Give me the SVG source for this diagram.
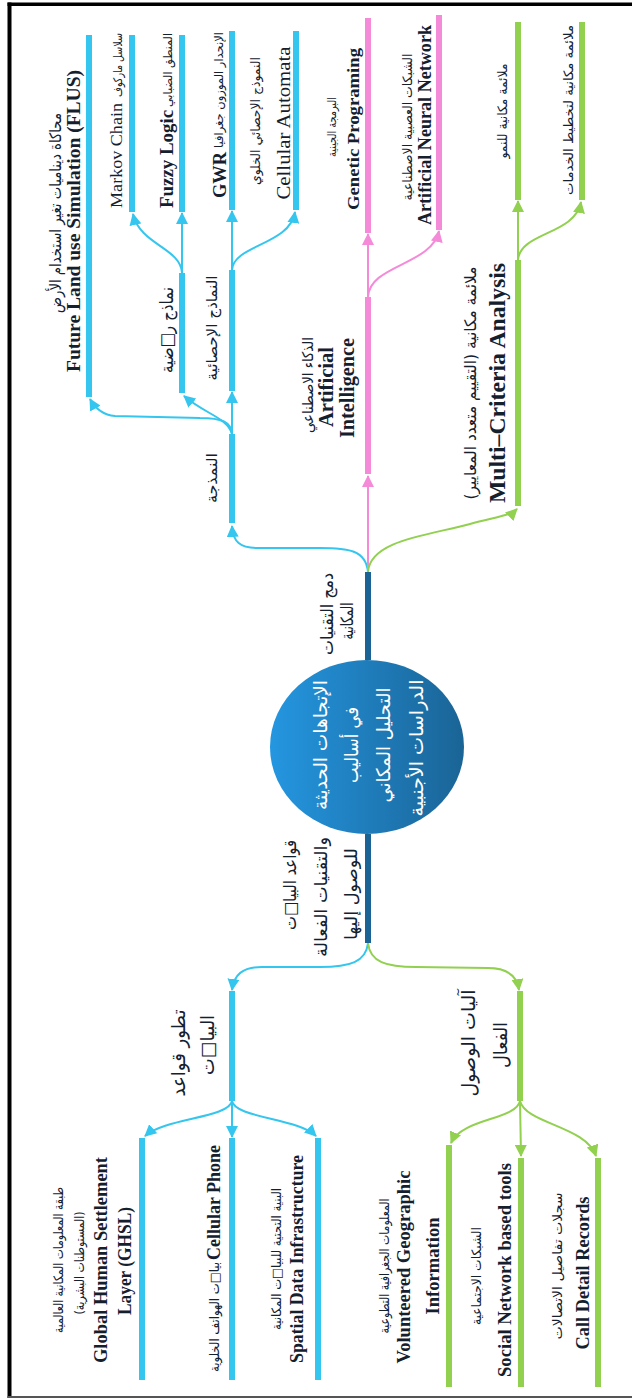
<svg xmlns="http://www.w3.org/2000/svg" width="632" height="1398" viewBox="0 0 632 1398">
  <defs>
    <linearGradient id="rootFill" x1="0" y1="0" x2="1" y2="0">
      <stop offset="0" stop-color="#2496e0"/>
      <stop offset="1" stop-color="#1a6496"/>
    </linearGradient>
    <marker id="arrC" markerUnits="userSpaceOnUse" markerWidth="12" markerHeight="12" viewBox="0 0 12 12" refX="11" refY="6" orient="auto">
      <path d="M0,0 L12,6 L0,12 z" fill="#34c6ee"/>
    </marker>
    <marker id="arrP" markerUnits="userSpaceOnUse" markerWidth="12" markerHeight="12" viewBox="0 0 12 12" refX="11" refY="6" orient="auto">
      <path d="M0,0 L12,6 L0,12 z" fill="#f48ad8"/>
    </marker>
    <marker id="arrG" markerUnits="userSpaceOnUse" markerWidth="12" markerHeight="12" viewBox="0 0 12 12" refX="11" refY="6" orient="auto">
      <path d="M0,0 L12,6 L0,12 z" fill="#92d050"/>
    </marker>
    <style>
      .bar { stroke-width: 6; fill: none; }
      .c { stroke: #34c6ee; }
      .p { stroke: #f48ad8; }
      .g { stroke: #92d050; }
      .d { stroke: #1b6394; }
      .link { fill: none; stroke-width: 2; }
      .lc { stroke: #34c6ee; marker-end: url(#arrC); }
      .lp { stroke: #f48ad8; marker-end: url(#arrP); }
      .lg { stroke: #92d050; marker-end: url(#arrG); }
      text { text-anchor: middle; fill: #14202e; }
      .en { font-family: "Liberation Serif", "Times New Roman", serif; font-weight: bold; }
      .enr { font-family: "Liberation Serif", "Times New Roman", serif; }
      .ar { font-family: "DejaVu Sans", "Noto Sans", sans-serif; direction: rtl; unicode-bidi: embed; }
      .w { fill: #ffffff; }
    </style>
  </defs>

  <!-- page frame -->
  <rect x="7.5" y="2.5" width="625" height="3.5" fill="#000"/>
  <rect x="7.5" y="2.5" width="4" height="1396" fill="#000"/>
  <rect x="7.5" y="1396" width="625" height="2" fill="#555"/>

  <!-- connectors -->
  <g id="connectors" class="link">
    <!-- upper half: spatial integration -->
    <path class="link lc" d="M368,572 C366,550 348,548 320,548 L258,548 C240,548 233,542 232,526"/>
    <path class="link lp" d="M368,572 L368,476"/>
    <path class="link lg" d="M368,572 C370,540 430,535 470,524 C495,517 510,516 517,509"/>
    <path class="link lc" d="M232,434 C231,422 222,418 200,418 L115,416 C103,415 95,408 90,399"/>
    <path class="link lc" d="M232,434 C228,418 205,414 184,396"/>
    <path class="link lc" d="M232,434 L232,392"/>
    <path class="link lc" d="M182,273 C181,248 140,245 133,214"/>
    <path class="link lc" d="M182,273 L182,213"/>
    <path class="link lc" d="M232,270 L232,211"/>
    <path class="link lc" d="M232,270 C233,245 290,245 295,212"/>
    <path class="link lp" d="M368,297 L368,234"/>
    <path class="link lp" d="M368,297 C369,265 432,265 439,231"/>
    <path class="link lg" d="M518,260 L518,201"/>
    <path class="link lg" d="M518,260 C520,232 575,235 581,202"/>
    <!-- lower half: data sources and access -->
    <path class="link lc" d="M368,943 C366,962 350,967 320,967 L262,967 C242,967 234,975 232,990"/>
    <path class="link lg" d="M368,943 C370,962 386,967 416,967 L488,968 C508,968 517,976 519,990"/>
    <path class="link lc" d="M232,1101 C229,1118 165,1118 145,1136"/>
    <path class="link lc" d="M232,1101 L232,1137"/>
    <path class="link lc" d="M232,1101 C235,1118 298,1118 316,1136"/>
    <path class="link lg" d="M520,1101 C516,1120 462,1118 451,1143"/>
    <path class="link lg" d="M520,1101 L521,1156"/>
    <path class="link lg" d="M520,1101 C526,1124 586,1126 596,1156"/>
  </g>

  <!-- central topic -->
  <g id="root">
    <ellipse cx="367" cy="747" rx="97" ry="87" fill="url(#rootFill)"/>
    <text class="ar w" font-size="19" transform="translate(327 745) rotate(-90)" textLength="130" lengthAdjust="spacingAndGlyphs">الإتجاهات الحديثة</text>
    <text class="ar w" font-size="19" transform="translate(358 745) rotate(-90)" textLength="76" lengthAdjust="spacingAndGlyphs">في أساليب</text>
    <text class="ar w" font-size="19" transform="translate(390 745) rotate(-90)" textLength="115" lengthAdjust="spacingAndGlyphs">التحليل المكاني</text>
    <text class="ar w" font-size="19" transform="translate(423 748) rotate(-90)" textLength="137" lengthAdjust="spacingAndGlyphs">الدراسات الأجنبية</text>
  </g>

  <g id="spatial-integration">
    <line class="bar d" x1="368" y1="572" x2="368" y2="660"/>
    <text class="ar" font-size="17" transform="translate(333 614) rotate(-90)" textLength="82" lengthAdjust="spacingAndGlyphs">دمج التقنيات</text>
    <text class="ar" font-size="17" transform="translate(353 621) rotate(-90)" textLength="37" lengthAdjust="spacingAndGlyphs">المكانية</text>
  </g>

  <g id="data-access">
    <line class="bar d" x1="368" y1="834" x2="368" y2="943"/>
    <text class="ar" font-size="17" transform="translate(296 885) rotate(-90)" textLength="90" lengthAdjust="spacingAndGlyphs">قواعد البيا□ت</text>
    <text class="ar" font-size="17" transform="translate(327 897) rotate(-90)" textLength="120" lengthAdjust="spacingAndGlyphs">والتقنيات الفعالة</text>
    <text class="ar" font-size="17" transform="translate(357 894) rotate(-90)" textLength="92" lengthAdjust="spacingAndGlyphs">للوصول إليها</text>
  </g>

  <!-- modelling branch -->
  <g id="modelling">
    <line class="bar c" x1="232" y1="434" x2="232" y2="523"/>
    <text class="ar" font-size="15" transform="translate(217 478) rotate(-90)" textLength="50" lengthAdjust="spacingAndGlyphs">النمذجة</text>
  </g>
  <g id="flus">
    <line class="bar c" x1="89" y1="35" x2="89" y2="397"/>
    <text class="ar" font-size="16" transform="translate(61 213) rotate(-90)" textLength="200" lengthAdjust="spacingAndGlyphs">محاكاة ديناميات تغير استخدام الأرض</text>
    <text class="en" font-size="19.5" transform="translate(80 221) rotate(-90)" textLength="302" lengthAdjust="spacingAndGlyphs">Future Land use Simulation (FLUS)</text>
  </g>
  <g id="math-models">
    <line class="bar c" x1="182" y1="273" x2="182" y2="393"/>
    <text class="ar" font-size="18" transform="translate(173 330) rotate(-90)" textLength="86" lengthAdjust="spacingAndGlyphs">نماذج ر□ضية</text>
  </g>
  <g id="stat-models">
    <line class="bar c" x1="232" y1="270" x2="232" y2="391"/>
    <text class="ar" font-size="15" transform="translate(217 328) rotate(-90)" textLength="105" lengthAdjust="spacingAndGlyphs">النماذج الإحصائية</text>
  </g>
  <g id="markov">
    <line class="bar c" x1="132" y1="35" x2="132" y2="212"/>
    <text class="enr" font-size="17" transform="translate(122 155.5) rotate(-90)" textLength="105" lengthAdjust="spacingAndGlyphs">Markov Chain</text>
    <text class="ar" font-size="12" transform="translate(122 65) rotate(-90)" textLength="64" lengthAdjust="spacingAndGlyphs">سلاسل ماركوف</text>
  </g>
  <g id="fuzzy">
    <line class="bar c" x1="182" y1="35" x2="182" y2="212"/>
    <text class="en" font-size="18" transform="translate(173 159) rotate(-90)" textLength="98" lengthAdjust="spacingAndGlyphs">Fuzzy Logic</text>
    <text class="ar" font-size="12" transform="translate(172 70) rotate(-90)" textLength="74" lengthAdjust="spacingAndGlyphs">المنطق الضبابي</text>
  </g>
  <g id="gwr">
    <line class="bar c" x1="232" y1="31" x2="232" y2="210"/>
    <text class="en" font-size="18" transform="translate(226 175) rotate(-90)" textLength="46" lengthAdjust="spacingAndGlyphs">GWR</text>
    <text class="ar" font-size="12" transform="translate(223 90) rotate(-90)" textLength="116" lengthAdjust="spacingAndGlyphs">الإنحدار الموزون جغرافيا</text>
  </g>
  <g id="cellular-automata">
    <line class="bar c" x1="296" y1="31" x2="296" y2="210"/>
    <text class="ar" font-size="13" transform="translate(260 121) rotate(-90)" textLength="128" lengthAdjust="spacingAndGlyphs">النموذج الإحصائي الخلوي</text>
    <text class="enr" font-size="19" transform="translate(290 123) rotate(-90)" textLength="153" lengthAdjust="spacingAndGlyphs">Cellular Automata</text>
  </g>

  <!-- artificial intelligence branch -->
  <g id="ai">
    <line class="bar p" x1="368" y1="297" x2="368" y2="474"/>
    <text class="ar" font-size="15" transform="translate(313 385) rotate(-90)" textLength="96" lengthAdjust="spacingAndGlyphs">الذكاء الاصطناعي</text>
    <text class="en" font-size="20" transform="translate(333 387) rotate(-90)" textLength="80" lengthAdjust="spacingAndGlyphs">Artificial</text>
    <text class="en" font-size="20" transform="translate(354 388) rotate(-90)" textLength="100" lengthAdjust="spacingAndGlyphs">Intelligence</text>
  </g>
  <g id="genetic">
    <line class="bar p" x1="368" y1="18" x2="368" y2="233"/>
    <text class="ar" font-size="12" transform="translate(336 127) rotate(-90)" textLength="60" lengthAdjust="spacingAndGlyphs">البرمجة الجينية</text>
    <text class="en" font-size="17" transform="translate(358.5 129) rotate(-90)" textLength="162" lengthAdjust="spacingAndGlyphs">Genetic Programing</text>
  </g>
  <g id="ann">
    <line class="bar p" x1="439" y1="15" x2="439" y2="230"/>
    <text class="ar" font-size="13" transform="translate(412 127) rotate(-90)" textLength="147" lengthAdjust="spacingAndGlyphs">الشبكات العصبية الاصطناعية</text>
    <text class="en" font-size="18" transform="translate(431 125) rotate(-90)" textLength="200" lengthAdjust="spacingAndGlyphs">Artificial Neural Network</text>
  </g>

  <!-- multi-criteria branch -->
  <g id="mca">
    <line class="bar g" x1="518" y1="260" x2="518" y2="506"/>
    <text class="ar" font-size="16" transform="translate(476 383) rotate(-90)" textLength="233" lengthAdjust="spacingAndGlyphs">ملائمة مكانية (التقييم متعدد المعايير)</text>
    <text class="en" font-size="23.5" transform="translate(505 383) rotate(-90)" textLength="240" lengthAdjust="spacingAndGlyphs">Multi–Criteria Analysis</text>
  </g>
  <g id="growth-suitability">
    <line class="bar g" x1="518" y1="22" x2="518" y2="200"/>
    <text class="ar" font-size="13" transform="translate(507 111) rotate(-90)" textLength="95" lengthAdjust="spacingAndGlyphs">ملائمة مكانية للنمو</text>
  </g>
  <g id="services-suitability">
    <line class="bar g" x1="582" y1="22" x2="582" y2="200"/>
    <text class="ar" font-size="13" transform="translate(573 110) rotate(-90)" textLength="170" lengthAdjust="spacingAndGlyphs">ملائمة مكانية لتخطيط الخدمات</text>
  </g>

  <!-- database evolution branch -->
  <g id="db-evolution">
    <line class="bar c" x1="232" y1="991" x2="232" y2="1101"/>
    <text class="ar" font-size="19" transform="translate(185 1053) rotate(-90)" textLength="87" lengthAdjust="spacingAndGlyphs">تطور قواعد</text>
    <text class="ar" font-size="19" transform="translate(214 1045) rotate(-90)" textLength="60" lengthAdjust="spacingAndGlyphs">البيا□ت</text>
  </g>
  <g id="ghsl">
    <line class="bar c" x1="142" y1="1138" x2="142" y2="1380"/>
    <text class="ar" font-size="13" transform="translate(63 1260) rotate(-90)" textLength="146" lengthAdjust="spacingAndGlyphs">طبقة المعلومات المكانية العالمية</text>
    <text class="ar" font-size="13" transform="translate(84 1263) rotate(-90)" textLength="103" lengthAdjust="spacingAndGlyphs">(المستوطنات البشرية)</text>
    <text class="en" font-size="18" transform="translate(107 1260) rotate(-90)" textLength="206" lengthAdjust="spacingAndGlyphs">Global Human Settlement</text>
    <text class="en" font-size="18" transform="translate(131 1261) rotate(-90)" textLength="108" lengthAdjust="spacingAndGlyphs">Layer (GHSL)</text>
  </g>
  <g id="cellular-phone">
    <line class="bar c" x1="232" y1="1138" x2="232" y2="1380"/>
    <text class="en" font-size="18" transform="translate(220 1202.5) rotate(-90)" textLength="115" lengthAdjust="spacingAndGlyphs">Cellular Phone</text>
    <text class="ar" font-size="13" transform="translate(219 1317) rotate(-90)" textLength="110" lengthAdjust="spacingAndGlyphs">بيا□ت الهواتف الخلوية</text>
  </g>
  <g id="sdi">
    <line class="bar c" x1="318" y1="1138" x2="318" y2="1380"/>
    <text class="ar" font-size="13" transform="translate(281 1259) rotate(-90)" textLength="142" lengthAdjust="spacingAndGlyphs">البنية التحتية للبيا□ت المكانية</text>
    <text class="en" font-size="18" transform="translate(303 1259) rotate(-90)" textLength="208" lengthAdjust="spacingAndGlyphs">Spatial Data Infrastructure</text>
  </g>

  <!-- effective access branch -->
  <g id="effective-access">
    <line class="bar g" x1="520" y1="991" x2="520" y2="1101"/>
    <text class="ar" font-size="19" transform="translate(475 1043) rotate(-90)" textLength="107" lengthAdjust="spacingAndGlyphs">آليات الوصول</text>
    <text class="ar" font-size="19" transform="translate(507 1045) rotate(-90)" textLength="46" lengthAdjust="spacingAndGlyphs">الفعال</text>
  </g>
  <g id="vgi">
    <line class="bar g" x1="449" y1="1145" x2="449" y2="1387"/>
    <text class="ar" font-size="13" transform="translate(389 1266) rotate(-90)" textLength="135" lengthAdjust="spacingAndGlyphs">المعلومات الجغرافية التطوعية</text>
    <text class="en" font-size="18.3" transform="translate(410 1267) rotate(-90)" textLength="193" lengthAdjust="spacingAndGlyphs">Volunteered Geographic</text>
    <text class="en" font-size="18.3" transform="translate(439 1266) rotate(-90)" textLength="97" lengthAdjust="spacingAndGlyphs">Information</text>
  </g>
  <g id="social-network">
    <line class="bar g" x1="521" y1="1158" x2="521" y2="1387"/>
    <text class="ar" font-size="13" transform="translate(481 1276) rotate(-90)" textLength="98" lengthAdjust="spacingAndGlyphs">الشبكات الاجتماعية</text>
    <text class="en" font-size="18.5" transform="translate(511 1270) rotate(-90)" textLength="214" lengthAdjust="spacingAndGlyphs">Social Network based tools</text>
  </g>
  <g id="cdr">
    <line class="bar g" x1="598" y1="1158" x2="598" y2="1387"/>
    <text class="ar" font-size="13" transform="translate(562 1266) rotate(-90)" textLength="147" lengthAdjust="spacingAndGlyphs">سجلات تفاصيل الاتصالات</text>
    <text class="en" font-size="18" transform="translate(589 1273) rotate(-90)" textLength="153" lengthAdjust="spacingAndGlyphs">Call Detail Records</text>
  </g>
</svg>
